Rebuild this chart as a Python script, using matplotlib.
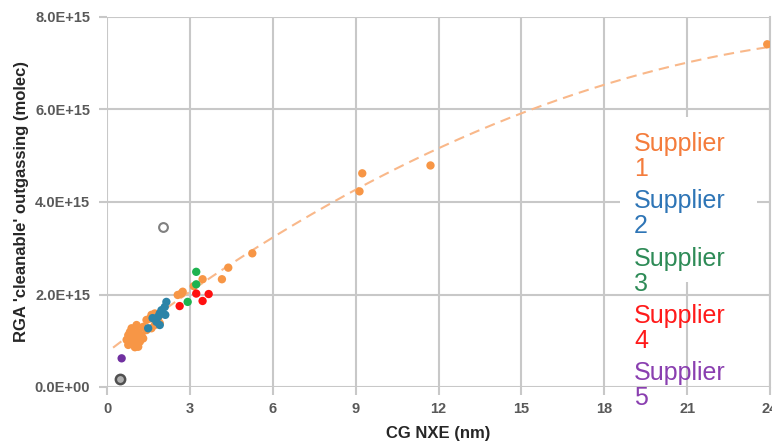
import numpy as np
import matplotlib
matplotlib.use("Agg")
import matplotlib.pyplot as plt

# ---- data ----
s1_x = [0.71, 0.77, 0.77, 0.83, 0.89, 0.89, 0.95, 0.95, 1.01, 1.07, 1.07, 1.13, 1.13, 1.19,
        1.25, 1.31, 1.31, 1.43, 1.43, 1.55, 1.61, 1.61, 1.73, 1.73, 1.85, 1.91,
        2.56, 2.69, 2.74, 3.14, 3.46, 4.16, 4.39, 5.26, 9.14, 9.24, 11.71, 23.9]
s1_y = [1.02, 1.12, 0.91, 1.19, 1.27, 1.05, 1.16, 0.98, 0.86, 1.34, 1.05, 1.19, 0.87, 0.98,
        1.12, 1.30, 1.05, 1.45, 1.23, 1.48, 1.56, 1.27, 1.59, 1.34, 1.48, 1.38,
        1.99, 2.02, 2.06, 2.18, 2.33, 2.33, 2.58, 2.89, 4.23, 4.62, 4.79, 7.41]
s2_x = [1.49, 1.65, 1.79, 1.85, 1.91, 1.91, 1.97, 2.03, 2.09, 2.11, 2.15]
s2_y = [1.27, 1.49, 1.41, 1.52, 1.59, 1.34, 1.66, 1.59, 1.73, 1.56, 1.84]
s3_x = [2.92, 3.23, 3.23]
s3_y = [1.84, 2.22, 2.49]
s4_x = [2.63, 3.23, 3.46, 3.68]
s4_y = [1.75, 2.02, 1.86, 2.01]
s5_x = [0.53]
s5_y = [0.62]
ring_x = [0.47]
ring_y = [0.17]
open_x = [2.03]
open_y = [3.46]
# trendline (2nd-order polynomial)
trend_coef = [-0.0077, 0.460, 0.75]
trend_range = [0.22, 24.0]

scale = 1e15
x_ticks = [0, 3, 6, 9, 12, 15, 18, 21, 24]
y_ticks = [0, 2e15, 4e15, 6e15, 8e15]
y_ticklabels = ["0.0E+00", "2.0E+15", "4.0E+15", "6.0E+15", "8.0E+15"]

labels = ["Supplier\n1", "Supplier\n2", "Supplier\n3", "Supplier\n4", "Supplier\n5"]
c_orange = "#F79646"
c_blue = "#2C84A8"
c_green = "#1DB34F"
c_red = "#FF1010"
c_purple = "#7030A0"
text_colors = ["#F47C3C", "#2E75B6", "#2E8B57", "#FF1A1A", "#8A3FB0"]

fig = plt.figure(figsize=(7.72, 4.46), dpi=100)
ax = fig.add_axes([107 / 772, 1 - 387 / 446, (770 - 107) / 772, (387 - 17) / 446])

grid_c = "#c8c8c8"
ax.set_axisbelow(True)
ax.grid(True, color=grid_c, linewidth=1.5)
for sp in ax.spines.values():
    sp.set_visible(False)
ax.spines["right"].set_visible(True)
ax.spines["right"].set_color(grid_c)
ax.spines["right"].set_linewidth(1.5)

# legend background box (hides the grid behind part of the legend)
box = matplotlib.patches.Rectangle((620 / 772, 1 - 282 / 446), 137 / 772, (282 - 117) / 446,
                                   transform=fig.transFigure, facecolor="white",
                                   edgecolor="none", zorder=1.5)
ax.add_artist(box)

tx = np.linspace(trend_range[0], trend_range[1], 200)
ax.plot(tx, np.polyval(trend_coef, tx) * scale, ls=(0, (5, 3)), color="#F9B88A",
        lw=1.5, zorder=2)

ms = 36
ax.scatter(s1_x, np.array(s1_y) * scale, s=ms, color=c_orange, edgecolors="none", zorder=3)
ax.scatter(s2_x, np.array(s2_y) * scale, s=ms, color=c_blue, edgecolors="none", zorder=3)
ax.scatter(s3_x, np.array(s3_y) * scale, s=ms, color=c_green, edgecolors="none", zorder=3)
ax.scatter(s4_x, np.array(s4_y) * scale, s=ms, color=c_red, edgecolors="none", zorder=3)
ax.scatter(s5_x, np.array(s5_y) * scale, s=ms, color=c_purple, edgecolors="none", zorder=3)
ax.scatter(ring_x, np.array(ring_y) * scale, s=45, facecolor="#b0b0b0", edgecolors="#505050",
           linewidths=1.8, zorder=3)
ax.scatter(open_x, np.array(open_y) * scale, s=40, facecolor="white", edgecolors="#808080",
           linewidths=1.5, zorder=3)

ax.set_xlim(0, 24)
ax.set_ylim(0, 8e15)
ax.set_xticks(x_ticks)
ax.set_yticks(y_ticks)
ax.set_yticklabels(y_ticklabels)
ax.tick_params(axis="both", direction="out", length=6, width=1.5, color=grid_c,
               labelsize=10.5, labelcolor="#595959")
ax.tick_params(axis="x", pad=5)
ax.tick_params(axis="y", pad=6)
for lab in ax.get_xticklabels() + ax.get_yticklabels():
    lab.set_fontfamily("Liberation Sans")
    lab.set_fontweight("bold")

ax.set_xlabel("CG NXE (nm)", fontsize=12, fontweight="bold", family="Liberation Sans",
              color="#262626", labelpad=7)
ax.set_ylabel("RGA 'cleanable' outgassing (molec)", fontsize=12, fontweight="bold",
              family="Liberation Sans", color="#262626", labelpad=4)

# legend: coloured text entries
for i, (lab, col) in enumerate(zip(labels, text_colors)):
    ytop = 132 + i * 57.3
    fig.text(634 / 772, 1 - ytop / 446, lab, color=col, fontsize=18,
             family="Liberation Sans", va="top", ha="left", linespacing=1.05, zorder=6)

fig.savefig("out.png", dpi=100)
